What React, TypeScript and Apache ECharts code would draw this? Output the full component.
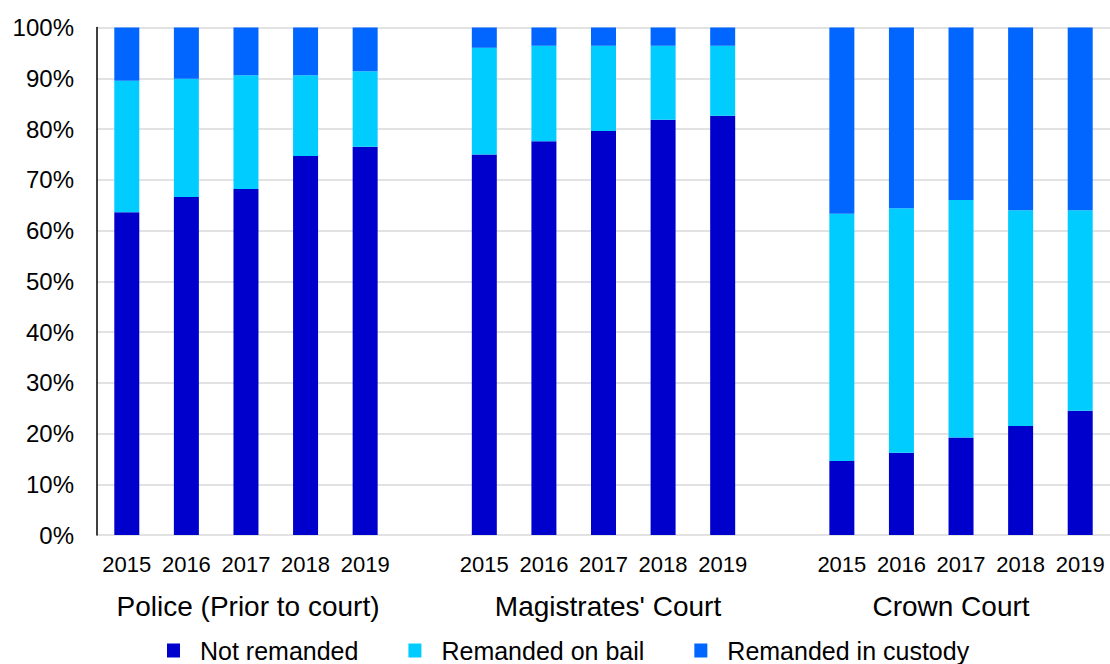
import React, { useEffect, useRef } from "react";
import * as echarts from "echarts";

const years = ["2015", "2016", "2017", "2018", "2019"];
const groups = ["Police (Prior to court)", "Magistrates' Court", "Crown Court"];
const seriesNames = ["Not remanded", "Remanded on bail", "Remanded in custody"];
const yTicks = [0, 10, 20, 30, 40, 50, 60, 70, 80, 90, 100];

const policeNot = [63.6, 66.6, 68.2, 74.7, 76.5];
const policeBail = [25.9, 23.3, 22.4, 15.9, 14.9];
const policeCustody = [10.5, 10.1, 9.4, 9.4, 8.6];

const magNot = [75.0, 77.6, 79.6, 81.8, 82.6];
const magBail = [21.0, 18.8, 16.8, 14.6, 13.8];
const magCustody = [4.0, 3.6, 3.6, 3.6, 3.6];

const crownNot = [14.6, 16.2, 19.2, 21.5, 24.5];
const crownBail = [48.7, 48.2, 46.8, 42.5, 39.5];
const crownCustody = [36.7, 35.6, 34.0, 36.0, 36.0];

const colors = ["#0000CC", "#00CCFF", "#0066FF"];

const FONT = "'Liberation Sans', Arial, sans-serif";

function joinGroups(a: number[], b: number[], c: number[]) {
  return [...a, null, ...b, null, ...c];
}

export default function App() {
  const ref = useRef<HTMLDivElement>(null);
  useEffect(() => {
    if (!ref.current) return;
    const chart = echarts.init(ref.current, null, { renderer: "svg" });
    const categories = [...years, "", ...years, "", ...years];
    const dataSets = [
      joinGroups(policeNot, magNot, crownNot),
      joinGroups(policeBail, magBail, crownBail),
      joinGroups(policeCustody, magCustody, crownCustody),
    ];
    const groupCenters = [248, 608, 951];
    chart.setOption({
      animation: false,
      color: colors,
      textStyle: { fontFamily: FONT, color: "#000" },
      grid: { left: 97, right: 0, top: 27.5, bottom: 129, containLabel: false },
      legend: {
        left: 167,
        top: 638,
        padding: 0,
        itemWidth: 13,
        itemHeight: 14,
        itemGap: 50,
        icon: "rect",
        data: seriesNames,
        formatter: "{g| }{name}",
        textStyle: {
          fontFamily: FONT,
          fontSize: 25,
          color: "#000",
          rich: { g: { width: 15, fontSize: 25 } },
        },
      },
      xAxis: {
        type: "category",
        data: categories,
        axisLine: { show: false },
        axisTick: { show: false },
        axisLabel: { fontFamily: FONT, fontSize: 22, color: "#000", margin: 18, interval: 0 },
        splitLine: { show: false },
      },
      yAxis: {
        type: "value",
        min: 0,
        max: 100,
        interval: 10,
        axisLine: { show: true, lineStyle: { color: "#000", width: 1.5 } },
        axisTick: { show: false },
        axisLabel: {
          fontFamily: FONT,
          fontSize: 24,
          color: "#000",
          margin: 23,
          formatter: (v: number) => (yTicks.includes(v) ? v + "%" : ""),
        },
        splitLine: { show: true, lineStyle: { color: "#d9d9d9", width: 1.5 } },
      },
      series: seriesNames.map((name, i) => ({
        name,
        type: "bar",
        stack: "total",
        barWidth: 25,
        data: dataSets[i],
        itemStyle: { color: colors[i] },
      })),
      graphic: groups.map((g, i) => ({
        type: "text",
        x: groupCenters[i],
        y: 606.5,
        style: {
          text: g,
          font: `28px ${FONT}`,
          fill: "#000",
          textAlign: "center",
          textVerticalAlign: "middle",
        },
      })),
    });
    return () => chart.dispose();
  }, []);
  return (
    <div
      ref={ref}
      style={{ position: "absolute", left: 0, top: 0, width: 1110, height: 664, background: "#fff" }}
    />
  );
}
